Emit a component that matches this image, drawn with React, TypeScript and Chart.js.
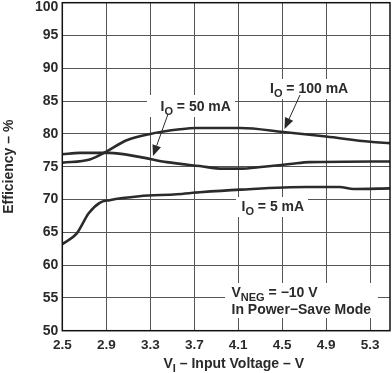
import React, { useEffect, useRef } from "react";
import { Chart, registerables } from "chart.js";

Chart.register(...registerables);

const xTicks = [2.5, 2.9, 3.3, 3.7, 4.1, 4.5, 4.9, 5.3];
const yTicks = [50, 55, 60, 65, 70, 75, 80, 85, 90, 95, 100];

const vin100 = [2.5, 2.75, 2.9, 3.08, 3.3, 3.57, 3.72, 4.12, 4.51, 4.9, 5.3, 5.48];
const eff100 = [75.6, 76.1, 77.3, 79.0, 80.0, 80.7, 80.9, 80.9, 80.3, 79.6, 78.8, 78.6];

const vin50 = [2.5, 2.66, 2.93, 3.2, 3.45, 3.75, 3.96, 4.11, 4.33, 4.57, 4.75, 5.48];
const eff50 = [76.9, 77.1, 77.1, 76.5, 75.7, 75.1, 74.7, 74.7, 75.0, 75.4, 75.7, 75.8];

const vin5 = [2.5, 2.63, 2.74, 2.84, 2.93, 3.2, 3.54, 3.75, 4.12, 4.72, 5.02, 5.15, 5.48];
const eff5 = [63.2, 64.8, 67.9, 69.5, 69.9, 70.5, 70.8, 71.1, 71.5, 71.9, 71.9, 71.6, 71.7];

const FONT = "'Liberation Sans', Arial, sans-serif";
const TEXT = "#2a2a2a";
const Y_MAX = 100;

type Part = { t: string; sub?: boolean };

function drawRich(ctx: CanvasRenderingContext2D, parts: Part[], x: number, y: number, size: number) {
  let cx = x;
  ctx.textBaseline = "alphabetic";
  ctx.textAlign = "left";
  for (const p of parts) {
    if (p.sub) {
      ctx.font = `bold ${Math.round(size * 0.75)}px ${FONT}`;
      ctx.fillText(p.t, cx, y + 4);
    } else {
      ctx.font = `bold ${size}px ${FONT}`;
      ctx.fillText(p.t, cx, y);
    }
    cx += ctx.measureText(p.t).width;
  }
  return cx - x;
}

function arrow(ctx: CanvasRenderingContext2D, x1: number, y1: number, x2: number, y2: number) {
  ctx.save();
  ctx.strokeStyle = TEXT;
  ctx.fillStyle = TEXT;
  ctx.lineWidth = 1;
  const ang = Math.atan2(y2 - y1, x2 - x1);
  const hl = 11;
  const hw = 4.5;
  const bx = x2 - hl * Math.cos(ang);
  const by = y2 - hl * Math.sin(ang);
  ctx.beginPath();
  ctx.moveTo(x1, y1);
  ctx.lineTo(bx, by);
  ctx.stroke();
  ctx.beginPath();
  ctx.moveTo(x2, y2);
  ctx.lineTo(bx + hw * Math.sin(ang), by - hw * Math.cos(ang));
  ctx.lineTo(bx - hw * Math.sin(ang), by + hw * Math.cos(ang));
  ctx.closePath();
  ctx.fill();
  ctx.restore();
}

const labelsPlugin = {
  id: "labelsPlugin",
  beforeDatasetsDraw(chart: any) {
    const ctx: CanvasRenderingContext2D = chart.ctx;
    ctx.save();
    ctx.fillStyle = "#fff";
    ctx.fillRect(147, 95, 88, 22);
    ctx.fillRect(265, 79, 86, 20);
    ctx.fillRect(236, 197, 72, 20);
    ctx.fillRect(225, 283, 153, 35);
    ctx.fillStyle = TEXT;
    const s = 14;
    drawRich(ctx, [{ t: "I" }, { t: "O", sub: true }, { t: " = 50 mA" }], 160.5, 110.5, s);
    drawRich(ctx, [{ t: "I" }, { t: "O", sub: true }, { t: " = 100 mA" }], 270, 92.5, s);
    drawRich(ctx, [{ t: "I" }, { t: "O", sub: true }, { t: " = 5 mA" }], 241.5, 210.5, s);
    drawRich(ctx, [{ t: "V" }, { t: "NEG", sub: true }, { t: " = \u221210 V" }], 231.5, 296.5, s);
    drawRich(ctx, [{ t: "In Power\u2212Save Mode" }], 231.5, 314, s);
    ctx.restore();
  },
  afterDatasetsDraw(chart: any) {
    const ctx: CanvasRenderingContext2D = chart.ctx;
    arrow(ctx, 168, 114, 153, 156);
    arrow(ctx, 300, 95, 284.5, 129);
  },
  afterDraw(chart: any) {
    const ctx: CanvasRenderingContext2D = chart.ctx;
    const a = chart.chartArea;
    ctx.save();
    ctx.strokeStyle = "#111";
    ctx.lineWidth = 1.5;
    ctx.strokeRect(a.left, a.top, a.right - a.left, a.bottom - a.top);
    ctx.fillStyle = TEXT;
    // top tick label, nudged down so it is not clipped (as in the reference)
    const yScale = chart.scales.y;
    ctx.font = `bold 14px ${FONT}`;
    ctx.textAlign = "right";
    ctx.textBaseline = "middle";
    ctx.fillText(String(Y_MAX), a.left - 4, yScale.getPixelForValue(Y_MAX) + 4);
    drawRich(ctx, [{ t: "V" }, { t: "I", sub: true }, { t: " \u2013 Input Voltage \u2013 V" }], 163.5, 367.5, 14);
    ctx.translate(13, (a.top + a.bottom) / 2);
    ctx.rotate(-Math.PI / 2);
    ctx.font = `bold 14px ${FONT}`;
    ctx.textAlign = "center";
    ctx.textBaseline = "alphabetic";
    ctx.fillText("Efficiency \u2013 %", 0, 0);
    ctx.restore();
  },
};

function pts(xs: number[], ys: number[]) {
  return xs.map((x, i) => ({ x, y: ys[i] }));
}

export default function App() {
  const ref = useRef<HTMLCanvasElement>(null);
  useEffect(() => {
    if (!ref.current) return;
    const line = (label: string, data: any[]) => ({
      label,
      data,
      borderColor: "#2b2b2b",
      borderWidth: 2.6,
      pointRadius: 0,
      fill: false,
      tension: 0.3,
      cubicInterpolationMode: "monotone" as const,
    });
    const chart = new Chart(ref.current, {
      type: "line",
      data: {
        datasets: [
          line("IO = 100 mA", pts(vin100, eff100)),
          line("IO = 50 mA", pts(vin50, eff50)),
          line("IO = 5 mA", pts(vin5, eff5)),
        ],
      },
      options: {
        responsive: false,
        devicePixelRatio: 1,
        animation: false,
        layout: { padding: { left: 0, right: 2, top: 2.7, bottom: 0 } },
        plugins: { legend: { display: false }, tooltip: { enabled: false } },
        scales: {
          x: {
            type: "linear",
            min: 2.5,
            max: 5.48,
            afterBuildTicks: (s: any) => {
              s.ticks = xTicks.map((v) => ({ value: v }));
            },
            afterFit: (s: any) => {
              s.height = 42.3;
              s.paddingLeft = 0;
              s.paddingRight = 0;
            },
            grid: { color: "#555", lineWidth: 1, drawTicks: false },
            border: { display: false },
            ticks: {
              padding: 6,
              color: TEXT,
              font: { family: FONT, size: 13.5, weight: "bold" },
              callback: (v: any) => Number(v).toFixed(1),
              maxRotation: 0,
              autoSkip: false,
            },
          },
          y: {
            type: "linear",
            min: 50,
            max: Y_MAX,
            afterBuildTicks: (s: any) => {
              s.ticks = yTicks.map((v) => ({ value: v }));
            },
            afterFit: (s: any) => {
              s.width = 62.3;
              s.paddingTop = 0;
              s.paddingBottom = 0;
            },
            grid: { color: "#555", lineWidth: 1, drawTicks: false },
            border: { display: false },
            ticks: {
              padding: 4,
              color: TEXT,
              font: { family: FONT, size: 14, weight: "bold" },
              autoSkip: false,
              callback: (v: any) => (Number(v) === Y_MAX ? "" : String(v)),
            },
          },
        },
      },
      plugins: [labelsPlugin],
    });
    return () => chart.destroy();
  }, []);
  return (
    <div style={{ position: "fixed", left: 0, top: 0, width: 392, height: 373, background: "#fff" }}>
      <canvas ref={ref} width={392} height={373} style={{ display: "block" }} />
    </div>
  );
}
